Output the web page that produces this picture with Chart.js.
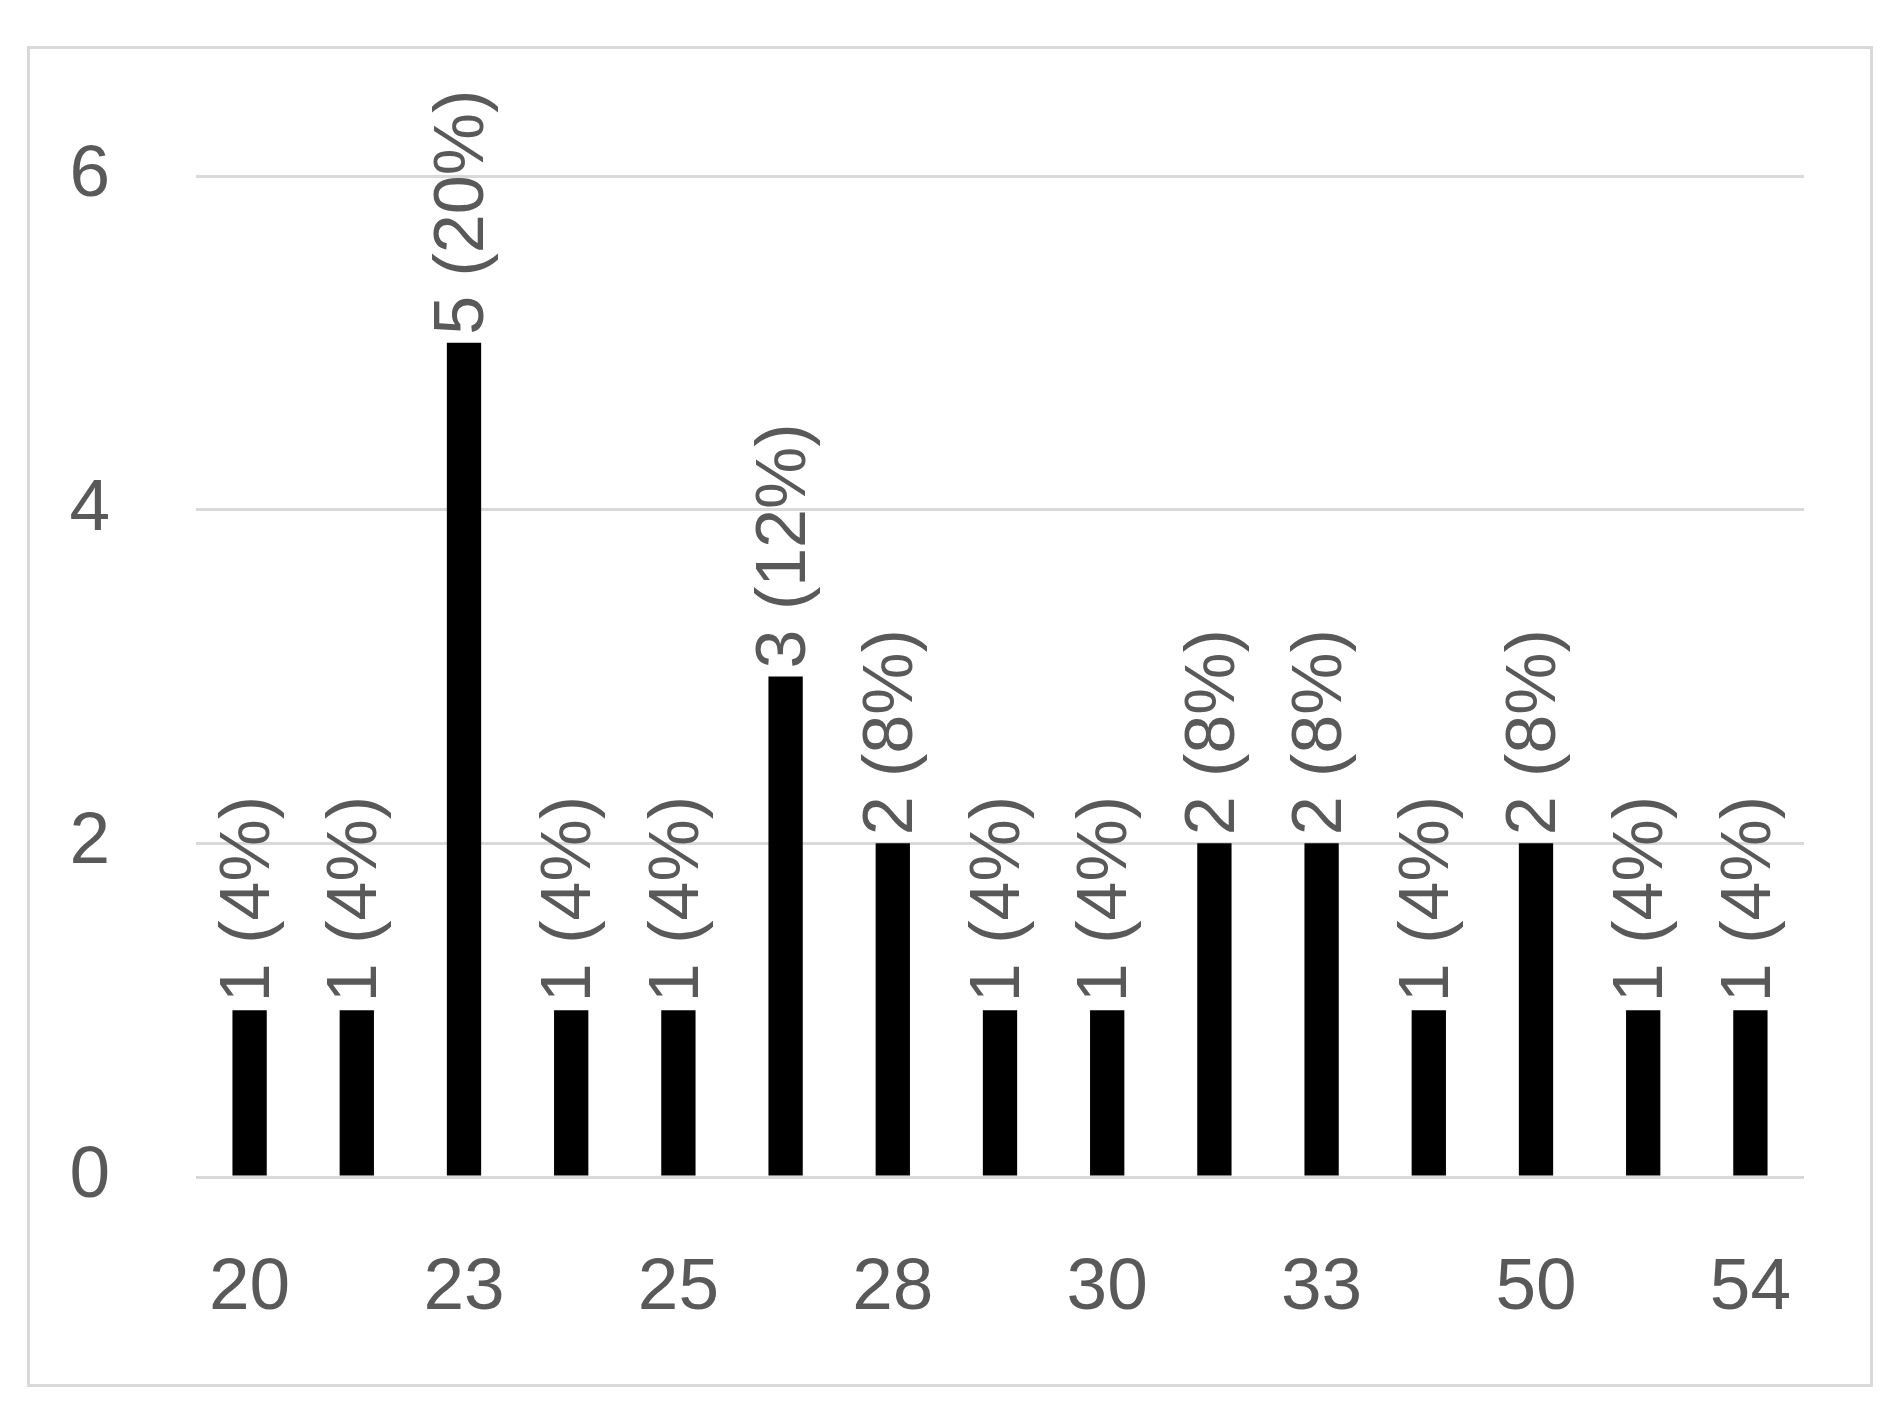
<!DOCTYPE html>
<html><head><meta charset="utf-8">
<script src="https://cdn.jsdelivr.net/npm/chart.js@4"></script>
<style>
html,body{margin:0;padding:0;background:#fff;}
#wrap{position:relative;width:1892px;height:1404px;}
#frame{position:absolute;left:27px;top:46px;width:1846px;height:1341px;border:3px solid #d9d9d9;box-sizing:border-box;}
canvas{position:absolute;left:0;top:0;}
</style></head><body>
<div id="wrap"><div id="frame"></div><canvas id="c" width="1892" height="1404"></canvas></div>
<script>
const categories = ['20','21','23','24','25','27','28','29','30','32','33','35','50','52','54'];
const counts = [1,1,5,1,1,3,2,1,1,2,2,1,2,1,1];
const percents = [4,4,20,4,4,12,8,4,4,8,8,4,8,4,4];
const yTicks = [0,2,4,6];
const FONT = "'Liberation Sans Narrow','Liberation Sans',sans-serif";
const labelPlugin = {
  id:'lbl',
  afterDatasetsDraw(chart){
    const ctx = chart.ctx, meta = chart.getDatasetMeta(0);
    ctx.save();
    ctx.fillStyle = '#595959';
    ctx.font = '70px ' + FONT;
    ctx.textAlign = 'left'; ctx.textBaseline = 'middle';
    meta.data.forEach((bar,i)=>{
      ctx.save();
      ctx.translate(bar.x, bar.y - 8);
      ctx.rotate(-Math.PI/2);
      ctx.fillText(counts[i] + ' (' + percents[i] + '%)', 0, 0);
      ctx.restore();
    });
    ctx.restore();
  }
};
new Chart(document.getElementById('c'), {
  type:'bar',
  data:{labels:categories, datasets:[{data:counts, backgroundColor:'#000', barPercentage:0.32, categoryPercentage:1}]},
  options:{
    responsive:false, animation:false,
    layout:{padding:{top:176,right:88,left:0,bottom:0}},
    plugins:{legend:{display:false},tooltip:{enabled:false}},
    scales:{
      x:{grid:{display:false}, border:{display:false},
        ticks:{autoSkip:false, maxRotation:0, color:'#595959', font:{size:73,family:FONT}, padding:60,
          callback:(v,i)=> i%2===0 ? categories[i] : ''},
        afterFit(s){s.height=227;}},
      y:{min:0,max:6, grid:{color:'#d9d9d9',lineWidth:3,drawTicks:false}, border:{display:false},
        afterBuildTicks(s){s.ticks=yTicks.map(v=>({value:v}));},
        ticks:{color:'#595959', font:{size:73,family:FONT}, padding:86},
        afterFit(s){s.width=196;}}
    }
  },
  plugins:[labelPlugin]
});
</script></body></html>
